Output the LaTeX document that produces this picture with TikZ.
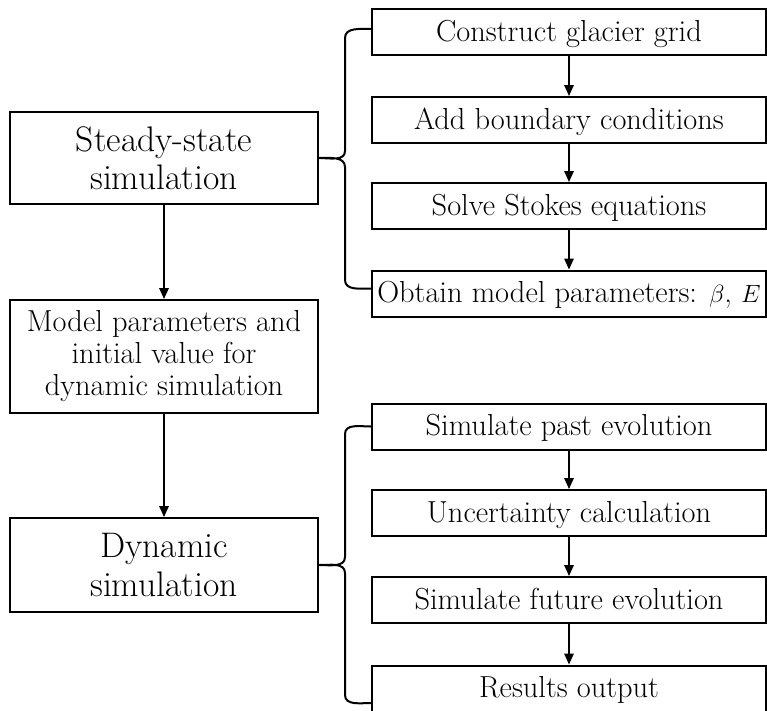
\documentclass[tikz,border=0pt]{standalone}
\usetikzlibrary{arrows.meta,calc}
\tikzset{
  bigbox/.style={draw,line width=2pt,minimum width=308pt,inner sep=0pt,align=center,font=\fontsize{35.5}{38.5}\selectfont},
  midbox/.style={draw,line width=2pt,minimum width=308pt,inner sep=0pt,align=center,font=\fontsize{30.4}{32}\selectfont},
  stepbox/.style={draw,line width=2pt,minimum width=394pt,minimum height=46pt,inner sep=0pt,font=\fontsize{30.4}{32}\selectfont,text height=18pt,text depth=0pt},
  flow/.style={line width=1.6pt,-{Triangle[length=11pt,width=9.5pt]}},
  brace/.style={line width=2pt,line join=round}
}
\begin{document}
\begin{tikzpicture}[x=1pt,y=-1pt]
\useasboundingbox (0,0) rectangle (767,710);
% left column
\node[bigbox,minimum height=92pt] (steady) at (164,158) {Steady-state\\simulation};
\node[midbox,minimum height=113pt] (model) at (164,356.5) {Model parameters and\\initial value for\\dynamic simulation};
\node[bigbox,minimum height=94pt] (dyn) at (164,565) {Dynamic\\simulation};
% right upper
\node[stepbox] (r1) at (569,32) {Construct glacier grid};
\node[stepbox] (r2) at (569,120) {Add boundary conditions};
\node[stepbox] (r3) at (569,206) {Solve Stokes equations};
\node[stepbox] (r4) at (569,293.5) {Obtain model parameters: $\beta$, $E$};
% right lower
\node[stepbox] (r5) at (569,426.5) {Simulate past evolution};
\node[stepbox] (r6) at (569,513) {Uncertainty calculation};
\node[stepbox] (r7) at (569,600) {Simulate future evolution};
\node[stepbox] (r8) at (569,688.5) {Results output};
% arrows
\draw[flow] (steady) -- (model);
\draw[flow] (model) -- (dyn);
\draw[flow] (r1) -- (r2);
\draw[flow] (r2) -- (r3);
\draw[flow] (r3) -- (r4);
\draw[flow] (r5) -- (r6);
\draw[flow] (r6) -- (r7);
\draw[flow] (r7) -- (r8);
% braces
\coordinate (r1j) at ([yshift=3pt]r1.west);
\coordinate (r4j) at ([yshift=5pt]r4.west);
\coordinate (r5j) at (r5.west);
\coordinate (r8j) at ([yshift=-14.5pt]r8.west);
\draw[brace] (r1j) to[out=180,in=90] (345,38) -- (345,151)
  to[out=-90,in=0] (steady.east) to[out=0,in=90] (345,167) -- (345,280)
  to[out=-90,in=180] (r4j);
\draw[brace] (r5j) to[out=180,in=90] (345,434) -- (345,557)
  to[out=-90,in=0] (dyn.east) to[out=0,in=90] (345,573) -- (345,695)
  to[out=-90,in=180] (r8j);
\end{tikzpicture}
\end{document}
